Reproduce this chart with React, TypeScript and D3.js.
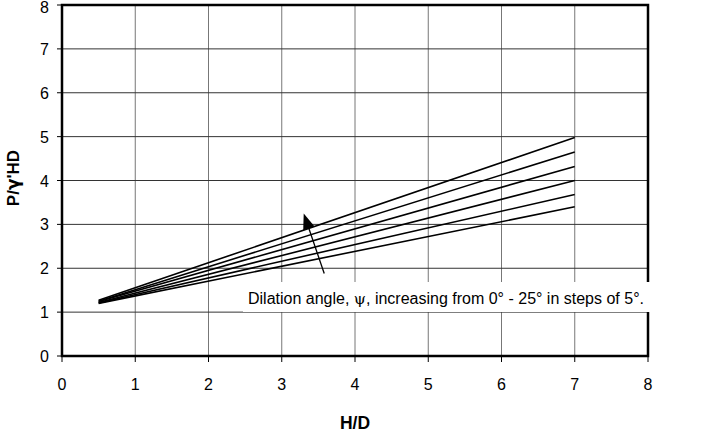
import React from "react";
import * as d3 from "d3";

// H/D range of each curve
const hdStart = 0.5;
const hdEnd = 7;
// P/γ'HD at the two ends, one entry per dilation angle (0°..25°)
const psiAngles = [0, 5, 10, 15, 20, 25];
const startValues = [1.2, 1.21, 1.22, 1.24, 1.25, 1.27];
const endValues = [3.4, 3.68, 4.0, 4.32, 4.65, 4.98];
const xTicks = [0, 1, 2, 3, 4, 5, 6, 7, 8];
const yTicks = [0, 1, 2, 3, 4, 5, 6, 7, 8];

const W = 709;
const H = 436;
const left = 62;
const right = 648;
const top = 5;
const bottom = 356;

export default function App() {
  const x = d3.scaleLinear().domain([0, 8]).range([left, right]);
  const y = d3.scaleLinear().domain([0, 8]).range([bottom, top]);
  const line = d3
    .line<[number, number]>()
    .x((d) => x(d[0]))
    .y((d) => y(d[1]));

  const series = psiAngles.map((a, i) => ({
    angle: a,
    pts: [
      [hdStart, startValues[i]],
      [hdEnd, endValues[i]],
    ] as [number, number][],
  }));

  // arrow pointing toward increasing ψ
  const ax0 = x(3.58), ay0 = y(1.88);
  const ax1 = x(3.3), ay1 = y(3.25);
  const ang = Math.atan2(ay1 - ay0, ax1 - ax0);
  const hl = 16, hw = 6;
  const bx = ax1 - hl * Math.cos(ang), by = ay1 - hl * Math.sin(ang);
  const px = -Math.sin(ang), py = Math.cos(ang);

  const font = "Arial, 'Liberation Sans', sans-serif";

  return (
    <svg width={W} height={H} style={{ position: "absolute", left: 0, top: 0 }} fontFamily={font}>
      <rect width={W} height={H} fill="#fff" />
      {/* grid */}
      {xTicks.slice(1, -1).map((t) => (
        <line key={"gx" + t} x1={x(t)} x2={x(t)} y1={top} y2={bottom} stroke="#777" strokeWidth={1} />
      ))}
      {yTicks.slice(1, -1).map((t) => (
        <line key={"gy" + t} x1={left} x2={right} y1={y(t)} y2={y(t)} stroke="#333" strokeWidth={1} />
      ))}
      {/* curves */}
      {series.map((s) => (
        <path key={s.angle} d={line(s.pts) || ""} fill="none" stroke="#000" strokeWidth={1.6} />
      ))}
      {/* plot frame */}
      <rect x={left} y={top} width={right - left} height={bottom - top} fill="none" stroke="#000" strokeWidth={2.5} />
      {/* ticks */}
      {xTicks.map((t) => (
        <g key={"tx" + t}>
          <line x1={x(t)} x2={x(t)} y1={bottom} y2={bottom + 6} stroke="#000" strokeWidth={1} />
          <text x={x(t)} y={390} fontSize={16} textAnchor="middle">{t}</text>
        </g>
      ))}
      {yTicks.map((t) => (
        <g key={"ty" + t}>
          <line x1={left - 5} x2={left} y1={y(t)} y2={y(t)} stroke="#000" strokeWidth={1} />
          <text x={49} y={Math.max(y(t) + 6, 13)} fontSize={16} textAnchor="end">{t}</text>
        </g>
      ))}
      {/* annotation */}
      <line x1={ax0} y1={ay0} x2={bx} y2={by} stroke="#000" strokeWidth={1.3} />
      <polygon
        points={`${ax1},${ay1} ${bx + px * hw},${by + py * hw} ${bx - px * hw},${by - py * hw}`}
        fill="#000"
      />
      <rect x={243} y={282} width={413} height={30} fill="#fff" />
      <text x={248} y={304} fontSize={16}>
        Dilation angle, <tspan fontFamily="'DejaVu Serif', serif" fontSize={15.5}>ψ</tspan>, increasing from 0° - 25° in steps of 5°.
      </text>
      {/* axis titles */}
      <text x={355} y={429} fontSize={17.5} fontWeight="bold" textAnchor="middle">H/D</text>
      <text
        transform={`translate(19,178) rotate(-90)`}
        fontSize={17}
        fontWeight="bold"
        textAnchor="middle"
      >
        P/<tspan fontFamily="'DejaVu Sans', sans-serif">γ</tspan>'HD
      </text>
    </svg>
  );
}
